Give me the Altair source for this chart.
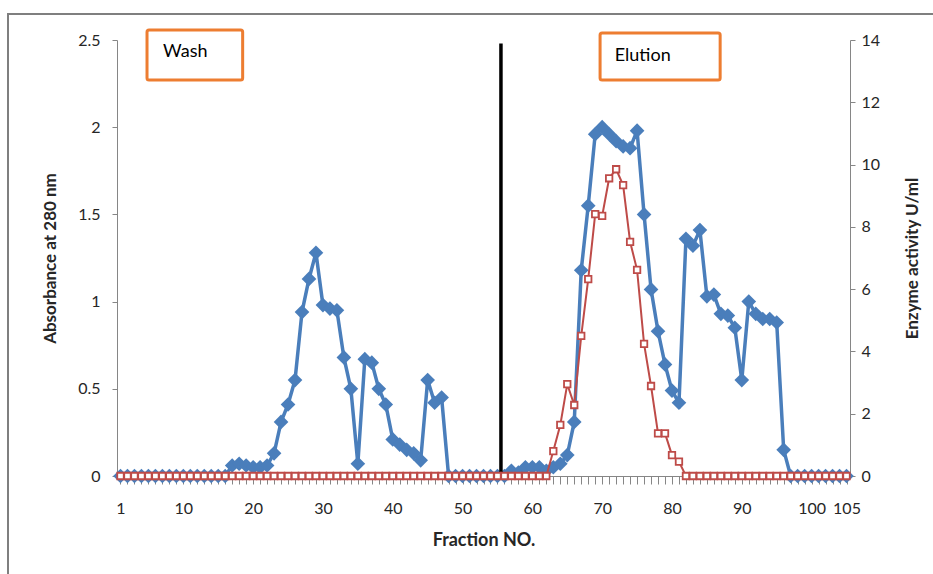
import altair as alt
import pandas as pd

# ---------------- data ----------------
fractions = list(range(1, 106))

absorbance = [
    0, 0, 0, 0, 0, 0, 0, 0, 0, 0,            # 1-10
    0, 0, 0, 0, 0, 0, 0.06, 0.07, 0.06, 0.05, # 11-20
    0.05, 0.06, 0.13, 0.31, 0.41, 0.55, 0.94, 1.13, 1.28, 0.98,  # 21-30
    0.96, 0.95, 0.68, 0.50, 0.07, 0.67, 0.65, 0.50, 0.41, 0.21,  # 31-40
    0.18, 0.15, 0.13, 0.09, 0.55, 0.42, 0.45, 0, 0, 0,           # 41-50
    0, 0, 0, 0, 0, 0, 0.03, 0.02, 0.05, 0.05,                    # 51-60
    0.05, 0.03, 0.05, 0.07, 0.12, 0.31, 1.18, 1.55, 1.96, 2.00,  # 61-70
    1.96, 1.92, 1.89, 1.88, 1.98, 1.50, 1.07, 0.83, 0.64, 0.49,  # 71-80
    0.42, 1.36, 1.32, 1.41, 1.03, 1.04, 0.93, 0.92, 0.85, 0.55,  # 81-90
    1.00, 0.93, 0.90, 0.90, 0.88, 0.15, 0, 0, 0, 0,              # 91-100
    0, 0, 0, 0, 0,                                               # 101-105
]

activity = [
    0, 0, 0, 0, 0, 0, 0, 0, 0, 0,
    0, 0, 0, 0, 0, 0, 0, 0, 0, 0,
    0, 0, 0, 0, 0, 0, 0, 0, 0, 0,
    0, 0, 0, 0, 0, 0, 0, 0, 0, 0,
    0, 0, 0, 0, 0, 0, 0, 0, 0, 0,
    0, 0, 0, 0, 0, 0, 0, 0, 0, 0,
    0, 0, 0.80, 1.64, 2.95, 2.28, 4.50, 6.32, 8.41, 8.35,        # 61-70
    9.56, 9.85, 9.34, 7.52, 6.62, 4.24, 2.89, 1.37, 1.37, 0.67,  # 71-80
    0.46, 0, 0, 0, 0, 0, 0, 0, 0, 0,                             # 81-90
    0, 0, 0, 0, 0, 0, 0, 0, 0, 0,
    0, 0, 0, 0, 0,
]

x_label_values = [1, 10, 20, 30, 40, 50, 60, 70, 80, 90, 100, 105]
left_ticks = [0, 0.5, 1, 1.5, 2, 2.5]
right_ticks = [0, 2, 4, 6, 8, 10, 12, 14]

divider_fraction = 55.5
divider_top = 2.48

box_labels = ["Wash", "Elution"]
box_x = [4.8, 69.7]
box_x2 = [18.5, 86.9]
box_y = [2.557, 2.54]
box_y2 = [2.27, 2.27]
box_text_x = [7.1, 71.8]
box_text_y = [2.43, 2.41]

# ---------------- styling ----------------
FONT = "Lato"
BLUE = "#4A7EBB"
RED = "#BE4B48"
AXIS_GRAY = "#868686"
TEXT = "#262626"
ORANGE = "#ED7D31"

W, H = 733, 436

df = pd.DataFrame({"fraction": fractions, "absorbance": absorbance, "activity": activity})
boxes = pd.DataFrame({"label": box_labels, "x": box_x, "x2": box_x2, "y": box_y, "y2": box_y2,
                      "tx": box_text_x, "ty": box_text_y})
divider = pd.DataFrame({"x": [divider_fraction], "y": [0], "y2": [divider_top]})

xscale = alt.Scale(domain=[0.5, 105.5], nice=False, zero=False)
yLscale = alt.Scale(domain=[0, 2.5], nice=False)
yRscale = alt.Scale(domain=[0, 14], nice=False)

# axis with a small tick at every fraction, no labels
x_tick_axis = alt.Axis(
    orient="bottom", values=fractions, labels=False, grid=False, tickSize=8,
    tickColor=AXIS_GRAY, domainColor=AXIS_GRAY, title="Fraction NO.", titleFont=FONT,
    titleFontSize=18, titleFontWeight="bold", titleColor=TEXT, titleX=W / 2, titleY=64,
    titleBaseline="middle", titleAlign="center",
)

# axis carrying only the labels
x_label_axis = alt.Axis(
    orient="bottom", values=x_label_values, ticks=False, domain=False, grid=False,
    labelOverlap=False, labelFlush=False, labelPadding=24, labelFont=FONT, labelFontSize=16,
    labelColor=TEXT, title=None,
)

yL_axis = alt.Axis(
    orient="left", values=left_ticks, format="~g", grid=False, tickSize=5, tickColor=AXIS_GRAY,
    domainColor=AXIS_GRAY, labelPadding=12, labelFont=FONT, labelFontSize=16, labelColor=TEXT,
    title="Absorbance at 280 nm", titleFont=FONT, titleFontSize=17, titleFontWeight="bold",
    titleColor=TEXT, titleAngle=270, titleX=-67, titleY=H / 2, titleBaseline="middle",
    titleAlign="center",
)

yR_axis = alt.Axis(
    orient="right", values=right_ticks, grid=False, tickSize=5, tickColor=AXIS_GRAY,
    domainColor=AXIS_GRAY, labelPadding=6, labelFont=FONT, labelFontSize=16, labelColor=TEXT,
    title="Enzyme activity U/ml", titleFont=FONT, titleFontSize=17, titleFontWeight="bold",
    titleColor=TEXT, titleAngle=270, titleX=62, titleY=H / 2, titleBaseline="middle",
    titleAlign="center",
)


def xl(field):
    return alt.X(field, scale=xscale, axis=x_tick_axis)


def yl(field):
    return alt.Y(field, scale=yLscale, axis=yL_axis)


base = alt.Chart(df)

blue_line = base.mark_line(color=BLUE, strokeWidth=3.5).encode(x=xl("fraction:Q"), y=yl("absorbance:Q"))
blue_pts = base.mark_point(shape="diamond", size=215, filled=True, color=BLUE, opacity=1).encode(
    x=xl("fraction:Q"), y=yl("absorbance:Q"))

div_rule = alt.Chart(divider).mark_rule(color="black", strokeWidth=3.5).encode(
    x=xl("x:Q"), y=yl("y:Q"), y2="y2:Q")

box_rect = alt.Chart(boxes).mark_rect(fill="white", stroke=ORANGE, strokeWidth=3, cornerRadius=2).encode(
    x=xl("x:Q"), x2="x2:Q", y=yl("y:Q"), y2="y2:Q")
box_txt = alt.Chart(boxes).mark_text(align="left", baseline="middle", font=FONT, fontSize=18,
                                     color="black").encode(
    x=xl("tx:Q"), y=yl("ty:Q"), text="label:N")

frame_src = alt.Chart(pd.DataFrame({"a": [0]}))
frame_left = frame_src.mark_rule(color="#7F7F7F", strokeWidth=2).encode(
    x=alt.value(-109), y=alt.value(-26), y2=alt.value(560))
frame_top = frame_src.mark_rule(color="#7F7F7F", strokeWidth=2).encode(
    x=alt.value(-110), x2=alt.value(840), y=alt.value(-26))

left_group = alt.layer(frame_left, frame_top, blue_line, blue_pts, div_rule, box_rect, box_txt)

red_line = base.mark_line(color=RED, strokeWidth=2).encode(
    x=alt.X("fraction:Q", scale=xscale, axis=x_label_axis),
    y=alt.Y("activity:Q", scale=yRscale, axis=yR_axis))
red_pts = base.mark_point(shape="square", size=42, filled=True, fill="white", stroke=RED,
                          strokeWidth=1.8, opacity=1).encode(
    x=alt.X("fraction:Q", scale=xscale, axis=x_label_axis),
    y=alt.Y("activity:Q", scale=yRscale, axis=yR_axis))
right_group = alt.layer(red_line, red_pts)

chart = alt.layer(left_group, right_group).resolve_scale(y="independent").resolve_axis(
    x="independent").properties(
    width=W, height=H,
    padding={"left": 117, "top": 40, "right": 83, "bottom": 98},
    autosize=alt.AutoSizeParams(type="none"),
    background="white",
).configure_view(stroke=None)

chart.save("out.html", embed_options={"renderer": "svg", "actions": False})
